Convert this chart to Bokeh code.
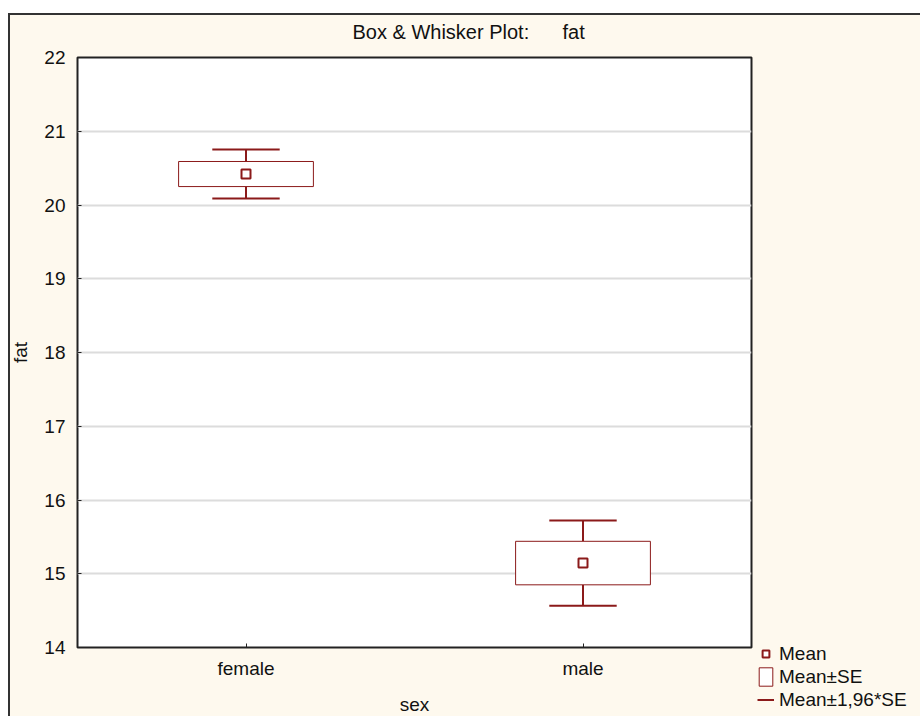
from bokeh.plotting import figure
from bokeh.models import (FactorRange, Range1d, FixedTicker, Legend, LegendItem,
                          ColumnDataSource)
from bokeh.transform import dodge
from bokeh.embed import file_html
from bokeh.resources import INLINE

# ---- data ----
sexes = ["female", "male"]
means = [20.42, 15.145]
std_errs = [0.17, 0.295]
z_factor = 1.96
y_ticks = [14, 15, 16, 17, 18, 19, 20, 21, 22]
title_text = "Box & Whisker Plot:\u00a0\u00a0\u00a0\u00a0\u00a0\u00a0fat"
legend_labels = ["Mean", "Mean±SE", "Mean±1,96*SE"]

lo_se = [m - s for m, s in zip(means, std_errs)]
hi_se = [m + s for m, s in zip(means, std_errs)]
lo_ci = [m - z_factor * s for m, s in zip(means, std_errs)]
hi_ci = [m + z_factor * s for m, s in zip(means, std_errs)]

src = ColumnDataSource(dict(sex=sexes, mean=means, lo_se=lo_se, hi_se=hi_se,
                            lo_ci=lo_ci, hi_ci=hi_ci))

DARK_RED = "#8B1A1A"
FONT = "Liberation Sans"
CREAM = "#FEF9EE"
TXT = "#111111"
EDGE = "#333333"

p = figure(x_range=FactorRange(factors=sexes), y_range=Range1d(14, 22),
           frame_width=674, frame_height=590,
           min_border_left=77, min_border_right=169,
           min_border_top=57, min_border_bottom=69,
           output_backend="svg", toolbar_location=None,
           title=title_text,
           background_fill_color="white", border_fill_alpha=0)

# cream panel with a dark top/left edge behind the (transparent) canvas border
p.styles = {"background": (
    f"linear-gradient({EDGE},{EDGE}) 8px 13px / 2px 703px no-repeat, "
    f"linear-gradient({EDGE},{EDGE}) 8px 13px / 912px 2px no-repeat, "
    f"linear-gradient({CREAM},{CREAM}) 8px 13px / 912px 703px no-repeat, "
    "#ffffff")}

# title
p.title.text_font = FONT
p.title.text_font_size = "20px"
p.title.text_font_style = "normal"
p.title.text_color = TXT
p.title.align = "left"
p.title.offset = 275
p.title.standoff = 29

# frame
p.outline_line_color = "#222222"
p.outline_line_width = 2

# grid
p.xgrid.grid_line_color = None
p.ygrid.grid_line_color = "#DCDCDC"
p.ygrid.grid_line_width = 2
p.yaxis.ticker = FixedTicker(ticks=y_ticks)

for ax in (p.xaxis[0], p.yaxis[0]):
    ax.axis_line_color = None
    ax.major_tick_in = 4
    ax.major_tick_out = 0
    ax.minor_tick_line_color = None
    ax.major_tick_line_color = "#222222"
    ax.major_label_text_font = FONT
    ax.major_label_text_font_size = "19px"
    ax.major_label_text_color = TXT
    ax.axis_label_text_font = FONT
    ax.axis_label_text_font_size = "19px"
    ax.axis_label_text_font_style = "normal"
    ax.axis_label_text_color = TXT

p.xaxis.axis_label = "sex"
p.yaxis.axis_label = "fat"
p.xaxis.major_label_standoff = 10
p.xaxis.axis_label_standoff = 12
p.yaxis.major_label_standoff = 12
p.yaxis.axis_label_standoff = 10

# whisker stems
stem_lo = p.segment(x0="sex", y0="lo_ci", x1="sex", y1="lo_se", source=src,
                    line_color=DARK_RED, line_width=2)
stem_hi = p.segment(x0="sex", y0="hi_se", x1="sex", y1="hi_ci", source=src,
                    line_color=DARK_RED, line_width=2)
# caps
cap_lo = p.segment(x0=dodge("sex", -0.1, range=p.x_range), y0="lo_ci",
                   x1=dodge("sex", 0.1, range=p.x_range), y1="lo_ci", source=src,
                   line_color=DARK_RED, line_width=2)
cap_hi = p.segment(x0=dodge("sex", -0.1, range=p.x_range), y0="hi_ci",
                   x1=dodge("sex", 0.1, range=p.x_range), y1="hi_ci", source=src,
                   line_color=DARK_RED, line_width=2)
# box
box = p.vbar(x="sex", width=0.4, bottom="lo_se", top="hi_se", source=src,
             fill_color="white", line_color=DARK_RED, line_width=1)
# mean
mean_r = p.scatter(x="sex", y="mean", source=src, marker="square", size=9,
                   fill_color="white", line_color=DARK_RED, line_width=2)

legend = Legend(items=[LegendItem(label=legend_labels[0], renderers=[mean_r]),
                       LegendItem(label=legend_labels[1], renderers=[box]),
                       LegendItem(label=legend_labels[2], renderers=[cap_lo])],
                location=(6, -64), orientation="vertical",
                border_line_color=None, background_fill_alpha=0,
                padding=0, margin=0, spacing=0,
                glyph_width=17, glyph_height=23, label_height=23,
                label_standoff=5, label_text_font=FONT,
                label_text_font_size="19px", label_text_color=TXT)
p.add_layout(legend, "right")

open("out.html", "w").write(file_html(p, INLINE))
